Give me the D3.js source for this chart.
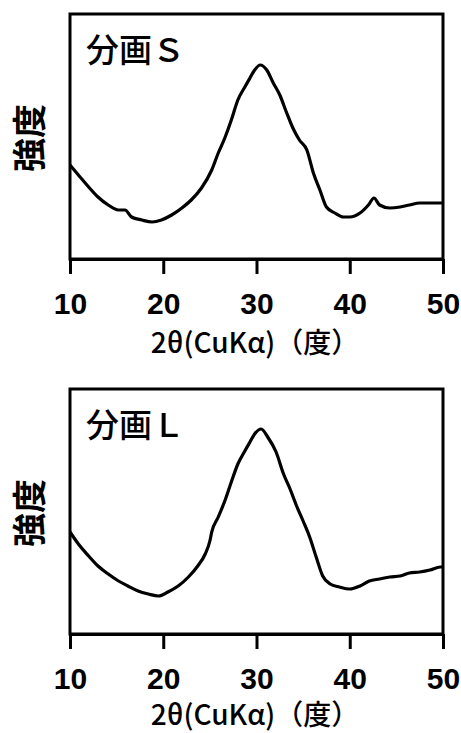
<!DOCTYPE html>
<html lang="ja">
<head>
<meta charset="utf-8">
<script src="https://d3js.org/d3.v7.min.js"></script>
<style>
  body { margin: 0; background: #fff; }
  svg { display: block; }
</style>
</head>
<body>
<script>
// 2θ values and intensities (arbitrary units)
var thetaS = [10, 10.9, 12.0, 13.0, 14.1, 15.2, 15.9, 16.6, 17.7, 18.8, 19.8, 20.9, 22.0, 23.0, 24.1, 25.2, 25.9, 26.6, 27.3, 28.0, 28.75, 29.3, 29.8, 30.4, 31.1, 31.8, 32.5, 33.2, 33.9, 34.6, 35.4, 36.1, 36.8, 37.5, 38.4, 39.3, 40.0, 41.1, 42.0, 42.6, 43.2, 44.3, 45.4, 46.4, 47.5, 48.6, 49.7, 50];
var intensS = [94, 84, 72, 62, 54, 49, 49, 42, 39, 37, 39, 44, 51, 59, 71, 89, 106, 121, 139, 159, 172, 181, 189, 194, 189, 176, 164, 147, 131, 119, 109, 86, 69, 52, 46, 42, 42, 46, 54, 61, 54, 51, 52, 54, 56, 56, 56, 56];

var thetaL = [10, 10.9, 12.0, 13.0, 14.1, 15.2, 16.2, 17.3, 18.4, 19.5, 20.5, 21.6, 22.7, 23.7, 24.5, 25.0, 25.2, 25.9, 26.6, 27.3, 28.0, 28.75, 29.3, 29.8, 30.5, 31.2, 32.1, 32.9, 33.6, 34.3, 35.0, 35.7, 36.4, 37.1, 37.9, 38.9, 40.0, 41.1, 42.1, 43.2, 44.3, 45.4, 46.4, 47.5, 48.6, 49.7, 50];
var intensL = [102, 90, 78, 68, 60, 53, 48, 43, 40, 38, 42, 48, 57, 68, 80, 93, 102, 117, 133, 152, 170, 183, 192, 200, 205, 197, 182, 160, 145, 128, 113, 97, 77, 58, 50, 47, 45, 48, 53, 55, 57, 58, 61, 62, 64, 67, 67];

var xTicks = [10, 20, 30, 40, 50];
var panelNames = ["分画Ｓ", "分画Ｌ"];
var xTitle = "2θ(CuKα)（度）";
var yTitle = "強度";

var width = 461, height = 733;
var svg = d3.select("body").append("svg")
  .attr("width", width)
  .attr("height", height);

function drawPanel(top, name, theta, intens, titleGap) {
  var left = 70, right = 443, bottom = top + 245;
  var x = d3.scaleLinear().domain([10, 50]).range([left, right]);
  var y = d3.scaleLinear().domain([0, 245]).range([bottom, top]);

  var g = svg.append("g");

  // frame
  g.append("rect")
    .attr("x", left).attr("y", top)
    .attr("width", right - left).attr("height", bottom - top)
    .attr("fill", "none").attr("stroke", "#000").attr("stroke-width", 3);

  // x axis
  var ax = g.append("g")
    .attr("transform", "translate(0," + bottom + ")")
    .call(d3.axisBottom(x).tickValues(xTicks).tickSize(15).tickSizeOuter(0).tickPadding(19));
  ax.select(".domain").attr("stroke-width", 3);
  ax.selectAll(".tick line").attr("stroke-width", 3);
  ax.selectAll(".tick text")
    .attr("font-family", "'Liberation Sans', Arial, sans-serif")
    .attr("font-weight", "bold")
    .attr("font-size", 30)
    .attr("fill", "#000");

  // curve
  var pts = theta.map(function(t, i) { return [t, intens[i]]; });
  g.append("path")
    .datum(pts)
    .attr("fill", "none")
    .attr("stroke", "#000")
    .attr("stroke-width", 3.2)
    .attr("stroke-linejoin", "round")
    .attr("d", d3.line()
      .curve(d3.curveMonotoneX)
      .x(function(d) { return x(d[0]); })
      .y(function(d) { return y(d[1]); }));

  // panel label
  g.append("text")
    .attr("x", 86).attr("y", top + 48)
    .attr("font-family", "'Noto Sans CJK JP', sans-serif")
    .attr("font-weight", 500)
    .attr("font-size", 33)
    .text(name);

  // x title
  g.append("text")
    .attr("x", 255).attr("y", bottom + titleGap)
    .attr("text-anchor", "middle")
    .attr("font-family", "'Noto Sans CJK JP', sans-serif")
    .attr("font-weight", 500)
    .attr("font-size", 28)
    .text(xTitle);

  // y title
  g.append("text")
    .attr("transform", "translate(42," + (top + 124) + ") rotate(-90)")
    .attr("text-anchor", "middle")
    .attr("font-family", "'Noto Sans CJK JP', sans-serif")
    .attr("font-weight", "bold")
    .attr("font-size", 34)
    .text(yTitle);
}

drawPanel(14, panelNames[0], thetaS, intensS, 94);
drawPanel(389, panelNames[1], thetaL, intensL, 91);
</script>
</body>
</html>
